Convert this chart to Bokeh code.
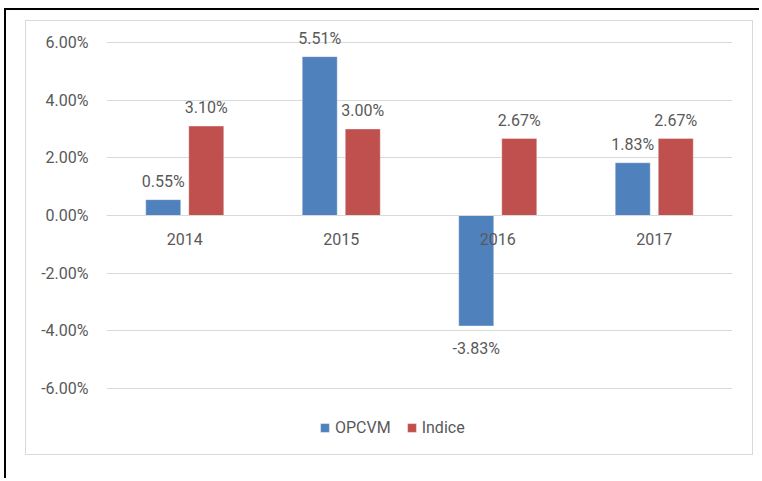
from bokeh.plotting import figure
from bokeh.models import (ColumnDataSource, FactorRange, FixedTicker, PrintfTickFormatter,
                          LabelSet, Legend, LegendItem, Range1d)
from bokeh.transform import dodge
from bokeh.layouts import column
from bokeh.embed import file_html
from bokeh.resources import INLINE
from bokeh.core.properties import value

years = ["2014", "2015", "2016", "2017"]
opcvm = [0.55, 5.51, -3.83, 1.83]
indice = [3.10, 3.00, 2.67, 2.67]
y_ticks = [-6, -4, -2, 0, 2, 4, 6]
series_names = ["OPCVM", "Indice"]
series_colors = ["#4F81BD", "#C0504D"]

FONT = "Roboto"
TXT = "#595959"
GRID = "#d9d9d9"

src = ColumnDataSource(dict(
    year=years, opcvm=opcvm, indice=indice,
    opcvm_lbl=[f"{v:.2f}%" for v in opcvm],
    indice_lbl=[f"{v:.2f}%" for v in indice],
    opcvm_off=[13 if v >= 0 else -28 for v in opcvm],
    indice_off=[13 if v >= 0 else -28 for v in indice],
))

# frame spans the full inner height: 6% line 21px below the top, -6% line 68px above the bottom
PX_PER_UNIT = 346 / 12.0
p = figure(x_range=FactorRange(factors=years, range_padding=0),
           y_range=Range1d(-6 - 68 / PX_PER_UNIT, 6 + 21 / PX_PER_UNIT),
           width=728, height=435, output_backend="svg", toolbar_location=None,
           min_border_left=80, min_border_right=22, min_border_top=0, min_border_bottom=0,
           styles={"border": "1px solid #d9d9d9"})

offsets = [-0.1375, 0.1375]
fields = ["opcvm", "indice"]
renderers = []
for off, fld, col in zip(offsets, fields, series_colors):
    r = p.vbar(x=dodge("year", off, range=p.x_range), top=fld, width=0.2236, source=src,
               fill_color=col, line_color="white", line_alpha=0.35, line_width=1)
    renderers.append(r)
    p.add_layout(LabelSet(x=dodge("year", off, range=p.x_range), y=fld, text=fld + "_lbl",
                          y_offset=fld + "_off", source=src, text_align="center",
                          text_baseline="alphabetic", text_font=value(FONT),
                          text_font_size="16px", text_color=TXT))

p.xaxis.fixed_location = 0
p.xaxis.axis_line_color = GRID
p.xaxis.major_tick_line_color = None
p.xaxis.minor_tick_line_color = None
p.xaxis.major_label_standoff = 11
p.xaxis.major_label_text_font = FONT
p.xaxis.major_label_text_font_size = "16px"
p.xaxis.major_label_text_color = TXT

p.yaxis.ticker = FixedTicker(ticks=y_ticks)
p.yaxis.formatter = PrintfTickFormatter(format="%.2f%%")
p.yaxis.axis_line_color = None
p.yaxis.major_tick_line_color = None
p.yaxis.minor_tick_line_color = None
p.yaxis.major_label_standoff = 12
p.yaxis.major_label_text_font = FONT
p.yaxis.major_label_text_font_size = "16px"
p.yaxis.major_label_text_color = TXT

p.ygrid.ticker = FixedTicker(ticks=y_ticks)
p.ygrid.grid_line_color = GRID
p.xgrid.visible = False
p.outline_line_color = None

legend = Legend(items=[LegendItem(label=n, renderers=[r]) for n, r in zip(series_names, renderers)],
                orientation="horizontal", location=(213, 19), padding=0, spacing=15,
                glyph_width=11, glyph_height=11, label_standoff=5, label_height=11,
                label_text_font=FONT, label_text_font_size="16px", label_text_color=TXT,
                border_line_color=None, background_fill_alpha=0, margin=0)
p.add_layout(legend)

layout = column(p, styles={"border-top": "2px solid black", "border-left": "2px solid black",
                           "margin-left": "4px", "margin-top": "8px",
                           "padding-left": "19px", "padding-top": "10px",
                           "padding-right": "6px", "padding-bottom": "23px"})

open("out.html", "w").write(file_html(layout, INLINE))
